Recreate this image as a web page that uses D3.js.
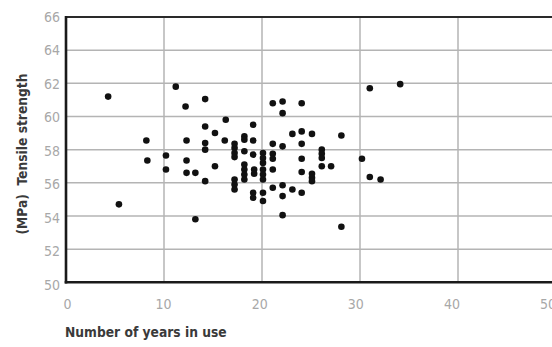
<!DOCTYPE html>
<html>
<head>
<meta charset="utf-8">
<script src="https://cdn.jsdelivr.net/npm/d3@7"></script>
<style>
  html, body { margin: 0; padding: 0; background: #fff; }
  svg { display: block; }
</style>
</head>
<body>
<svg id="chart" width="552" height="347"></svg>
<script>
// ---- data ----
const years = [
  4.3, 5.4, 8.2, 8.3, 10.2, 10.2, 11.2, 12.2, 12.3, 12.3, 12.3, 13.2, 13.2,
  14.2, 14.2, 14.2, 14.2, 14.2, 15.2, 15.2, 16.2, 16.3,
  17.2, 17.2, 17.2, 17.2, 17.2, 17.2, 17.2,
  18.2, 18.2, 18.2, 18.2, 18.2, 18.2, 18.2,
  19.1, 19.1, 19.1, 19.2, 19.2, 19.1, 19.1,
  20.1, 20.1, 20.1, 20.1, 20.1, 20.1, 20.1, 20.1,
  21.1, 21.1, 21.1, 21.1, 21.1, 21.1,
  22.1, 22.1, 22.1, 22.1, 22.1, 22.1,
  23.1, 23.1,
  24.05, 24.05, 24.05, 24.05, 24.05, 24.05,
  25.1, 25.1, 25.1, 25.1,
  26.1, 26.1, 26.1, 26.1, 27.05,
  28.1, 28.1, 30.2, 31.0, 31.0, 32.1, 34.1
];
const strength = [
  61.2, 54.7, 58.55, 57.35, 57.65, 56.8, 61.8, 60.6, 58.55, 57.35, 56.6, 56.6, 53.8,
  61.05, 59.4, 58.4, 58.0, 56.1, 59.0, 57.0, 58.55, 59.8,
  58.35, 58.1, 57.8, 57.55, 56.2, 55.9, 55.6,
  58.8, 58.6, 57.9, 57.1, 56.8, 56.5, 56.2,
  59.5, 58.55, 57.7, 56.8, 56.55, 55.4, 55.1,
  57.8, 57.5, 57.2, 56.8, 56.5, 56.2, 55.4, 54.9,
  60.8, 58.35, 57.75, 57.45, 56.8, 55.7,
  60.9, 60.2, 58.2, 55.85, 55.2, 54.05,
  58.95, 55.6,
  60.8, 59.1, 58.35, 57.45, 56.65, 55.4,
  58.95, 56.55, 56.3, 56.1,
  58.0, 57.75, 57.5, 57.0, 57.0,
  58.85, 53.35, 57.45, 61.7, 56.35, 56.2, 61.95
];
const xTicks = [0, 10, 20, 30, 40, 50];
const yTicks = [50, 52, 54, 56, 58, 60, 62, 64, 66];
const xTitle = "Number of years in use";
const yTitle = "(MPa)\u00A0\u00A0Tensile strength";

// ---- drawing ----
const svg = d3.select("#chart");
const x = d3.scaleLinear().domain([0, 50]).range([66, 556]);
const y = d3.scaleLinear().domain([50, 66]).range([282.3, 17]);
// printed tick labels are slightly off-register from the grid in the original
const xLab = d3.scaleLinear().domain([0, 50]).range([67.5, 548]);
const yLab = d3.scaleLinear().domain([50, 66]).range([285, 16.7]);

const gridColor = "#b4b4b4";

// horizontal gridlines
svg.append("g")
  .selectAll("line")
  .data(yTicks.filter(d => d > 50 && d < 66))
  .join("line")
  .attr("x1", x(0)).attr("x2", 552)
  .attr("y1", d => y(d)).attr("y2", d => y(d))
  .attr("stroke", gridColor).attr("stroke-width", 1.5);

// vertical gridlines
svg.append("g")
  .selectAll("line")
  .data(xTicks.filter(d => d > 0))
  .join("line")
  .attr("x1", d => x(d)).attr("x2", d => x(d))
  .attr("y1", y(66)).attr("y2", y(50))
  .attr("stroke", gridColor).attr("stroke-width", 1.5);

// frame: top, left, bottom
svg.append("line")
  .attr("x1", x(0)).attr("x2", 552)
  .attr("y1", y(66)).attr("y2", y(66))
  .attr("stroke", "#2a2a2a").attr("stroke-width", 2);
svg.append("line")
  .attr("x1", x(0)).attr("x2", x(0))
  .attr("y1", y(66) - 1).attr("y2", y(50) + 1.2)
  .attr("stroke", "#1a1a1a").attr("stroke-width", 2.6);
svg.append("line")
  .attr("x1", x(0) - 1.3).attr("x2", 552)
  .attr("y1", y(50)).attr("y2", y(50))
  .attr("stroke", "#1a1a1a").attr("stroke-width", 2.6);

// tick labels
const tickFont = "'DejaVu Sans Condensed', 'Liberation Sans', sans-serif";
svg.append("g")
  .selectAll("text")
  .data(yTicks)
  .join("text")
  .attr("x", 60)
  .attr("y", d => yLab(d))
  .attr("dy", "0.35em")
  .attr("text-anchor", "end")
  .attr("font-family", tickFont)
  .attr("font-size", 14)
  .attr("fill", "#a8a8a8")
  .text(d => d);

svg.append("g")
  .selectAll("text")
  .data(xTicks)
  .join("text")
  .attr("x", d => xLab(d))
  .attr("y", 304)
  .attr("dy", "0.35em")
  .attr("text-anchor", "middle")
  .attr("font-family", tickFont)
  .attr("font-size", 14)
  .attr("fill", "#a8a8a8")
  .text(d => d);

// axis titles
const titleFont = "'DejaVu Sans Condensed', 'Liberation Sans', sans-serif";
svg.append("text")
  .attr("x", 65)
  .attr("y", 337)
  .attr("font-family", titleFont)
  .attr("font-size", 13.7)
  .attr("font-weight", "bold")
  .attr("fill", "#3a3a3a")
  .text(xTitle);

svg.append("text")
  .attr("transform", "translate(27,154) rotate(-90)")
  .attr("text-anchor", "middle")
  .attr("font-family", titleFont)
  .attr("font-size", 13.7)
  .attr("font-weight", "bold")
  .attr("fill", "#3a3a3a")
  .text(yTitle);

// points
svg.append("g")
  .selectAll("circle")
  .data(years.map((v, i) => [v, strength[i]]))
  .join("circle")
  .attr("cx", d => x(d[0]))
  .attr("cy", d => y(d[1]))
  .attr("r", 3.3)
  .attr("fill", "#111");
</script>
</body>
</html>
